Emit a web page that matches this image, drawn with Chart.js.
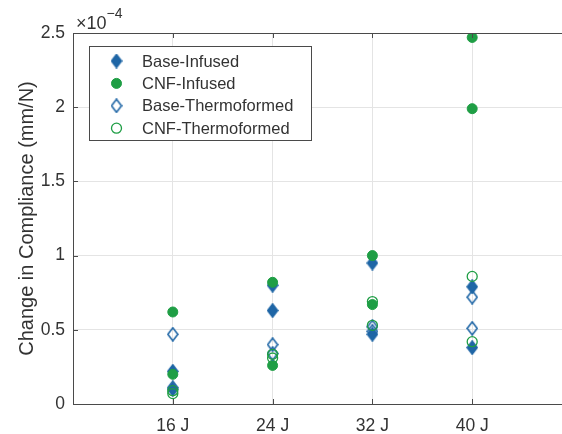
<!DOCTYPE html>
<html lang="en">
<head>
<meta charset="UTF-8">
<title>Change in Compliance</title>
<script src="https://cdn.jsdelivr.net/npm/chart.js"></script>
<style>
  html, body { margin: 0; padding: 0; background: #fff; overflow: hidden; }
  .wrap { position: relative; width: 600px; height: 434px; }
</style>
</head>
<body>
<div class="wrap"><canvas id="chart"></canvas></div>
<script>
// impact energy levels (x categories)
const energies = ['16 J', '24 J', '32 J', '40 J'];
// change in compliance, in units of 1e-4 mm/N, two specimens per energy
const baseInfused = [[0.22, 0.10], [0.80, 0.63], [0.95, 0.47], [0.79, 0.38]];
const cnfInfused = [[0.62, 0.20], [0.82, 0.26], [1.00, 0.67], [2.47, 1.99]];
const baseThermo = [[0.47, 0.11], [0.40, 0.34], [0.52, 0.49], [0.72, 0.51]];
const cnfThermo = [[0.09, 0.07], [0.335, 0.31], [0.69, 0.53], [0.86, 0.42]];
const yTicks = [0, 0.5, 1, 1.5, 2, 2.5];

const BLUE = '#1f66a6';
const GREEN = '#1f9e45';
const TEXT = '#333333';
const AXIS = '#4a4a4a';
const FONT = 'Helvetica, "Liberation Sans", Arial, sans-serif';

// one point per specimen, x = category position (1..4)
function toPoints(arr) {
    return arr.flatMap((vals, i) => vals.map(v => ({ x: i + 1, y: v })));
}

// MATLAB diamonds are a bit taller than wide, so draw them as small canvases
function diamond(filled) {
    const c = document.createElement('canvas');
    c.width = 12; c.height = 15;
    const g = c.getContext('2d');
    g.beginPath();
    g.moveTo(6, 1); g.lineTo(11, 7.5); g.lineTo(6, 14); g.lineTo(1, 7.5);
    g.closePath();
    g.strokeStyle = BLUE;
    g.lineWidth = 1.6;
    if (filled) { g.fillStyle = BLUE; g.fill(); }
    g.stroke();
    return c;
}

// MATLAB-style box, inward ticks, exponent label and legend
const decorations = {
    id: 'decorations',
    afterDraw(chart) {
        const ctx = chart.ctx;
        const a = chart.chartArea;
        const xs = chart.scales.x, ys = chart.scales.y;
        ctx.save();
        ctx.strokeStyle = AXIS;
        ctx.lineWidth = 1;
        ctx.strokeRect(Math.round(a.left) + 0.5, Math.round(a.top) + 0.5,
            Math.round(a.right - a.left), Math.round(a.bottom - a.top));

        // inward ticks
        ctx.beginPath();
        xs.ticks.forEach(t => {
            const px = Math.round(xs.getPixelForValue(t.value)) + 0.5;
            ctx.moveTo(px, a.bottom); ctx.lineTo(px, a.bottom - 5);
            ctx.moveTo(px, a.top); ctx.lineTo(px, a.top + 5);
        });
        ys.ticks.forEach(t => {
            const py = Math.round(ys.getPixelForValue(t.value)) + 0.5;
            ctx.moveTo(a.left, py); ctx.lineTo(a.left + 5, py);
        });
        ctx.stroke();

        // x10^-4
        ctx.fillStyle = TEXT;
        ctx.textBaseline = 'alphabetic';
        ctx.font = '18px ' + FONT;
        ctx.fillText('\u00d710', a.left + 3, a.top - 4);
        const w = ctx.measureText('\u00d710').width;
        ctx.font = '14px ' + FONT;
        ctx.fillText('\u22124', a.left + 3 + w, a.top - 15);

        // legend box
        const lx = 89.5, ly = 46.5, lw = 222, lh = 94;
        ctx.fillStyle = '#ffffff';
        ctx.fillRect(lx, ly, lw, lh);
        ctx.strokeStyle = AXIS;
        ctx.strokeRect(lx, ly, lw, lh);
        ctx.font = '16.5px ' + FONT;
        ctx.textBaseline = 'middle';
        chart.data.datasets.forEach((ds, i) => {
            const y = 61 + i * 22.4;
            ctx.fillStyle = ds.pointBackgroundColor;
            ctx.strokeStyle = ds.pointBorderColor;
            ctx.lineWidth = ds.pointBorderWidth;
            Chart.helpers.drawPoint(ctx, {
                pointStyle: ds.pointStyle,
                radius: ds.pointRadius,
                rotation: 0,
                borderWidth: ds.pointBorderWidth
            }, 116.5, y);
            ctx.fillStyle = TEXT;
            ctx.fillText(ds.label, 142, y + 1);
        });
        ctx.restore();
    }
};

new Chart(document.getElementById('chart'), {
    type: 'scatter',
    data: {
        datasets: [
            {
                label: 'Base-Infused',
                data: toPoints(baseInfused),
                pointStyle: diamond(true),
                pointRadius: 6.5,
                pointBackgroundColor: BLUE,
                pointBorderColor: BLUE,
                pointBorderWidth: 1,
                order: 4
            },
            {
                label: 'CNF-Infused',
                data: toPoints(cnfInfused),
                pointStyle: 'circle',
                pointRadius: 5,
                pointBackgroundColor: GREEN,
                pointBorderColor: GREEN,
                pointBorderWidth: 1,
                order: 3
            },
            {
                label: 'Base-Thermoformed',
                data: toPoints(baseThermo),
                pointStyle: diamond(false),
                pointRadius: 6.5,
                pointBackgroundColor: 'rgba(255,255,255,0)',
                pointBorderColor: BLUE,
                pointBorderWidth: 1.3,
                order: 2
            },
            {
                label: 'CNF-Thermoformed',
                data: toPoints(cnfThermo),
                pointStyle: 'circle',
                pointRadius: 5,
                pointBackgroundColor: 'rgba(255,255,255,0)',
                pointBorderColor: GREEN,
                pointBorderWidth: 1.3,
                order: 1
            }
        ]
    },
    options: {
        responsive: true,
        maintainAspectRatio: false,
        animation: false,
        layout: { padding: { top: 33, right: 28, left: 0, bottom: 0 } },
        plugins: {
            legend: { display: false },
            tooltip: { enabled: false }
        },
        scales: {
            x: {
                type: 'linear',
                min: 0,
                max: energies.length + 1,
                afterBuildTicks: scale => {
                    scale.ticks = energies.map((_, i) => ({ value: i + 1 }));
                },
                afterFit: scale => { scale.height = 30; },
                grid: { color: '#e4e4e4', drawTicks: false },
                border: { display: false },
                ticks: {
                    padding: 12,
                    color: TEXT,
                    font: { size: 17.5, family: FONT },
                    maxRotation: 0,
                    callback: v => energies[v - 1] || ''
                }
            },
            y: {
                min: yTicks[0],
                max: yTicks[yTicks.length - 1],
                afterBuildTicks: scale => {
                    scale.ticks = yTicks.map(v => ({ value: v }));
                },
                afterFit: scale => { scale.width = 73; },
                grid: { color: '#e4e4e4', drawTicks: false },
                border: { display: false },
                ticks: {
                    padding: 8,
                    color: TEXT,
                    font: { size: 17.5, family: FONT },
                    callback: v => String(v)
                },
                title: {
                    display: true,
                    text: 'Change in Compliance (mm/N)',
                    color: TEXT,
                    font: { size: 20, family: FONT },
                    padding: { top: 15, bottom: 0 }
                }
            }
        }
    },
    plugins: [decorations]
});
</script>
</body>
</html>
